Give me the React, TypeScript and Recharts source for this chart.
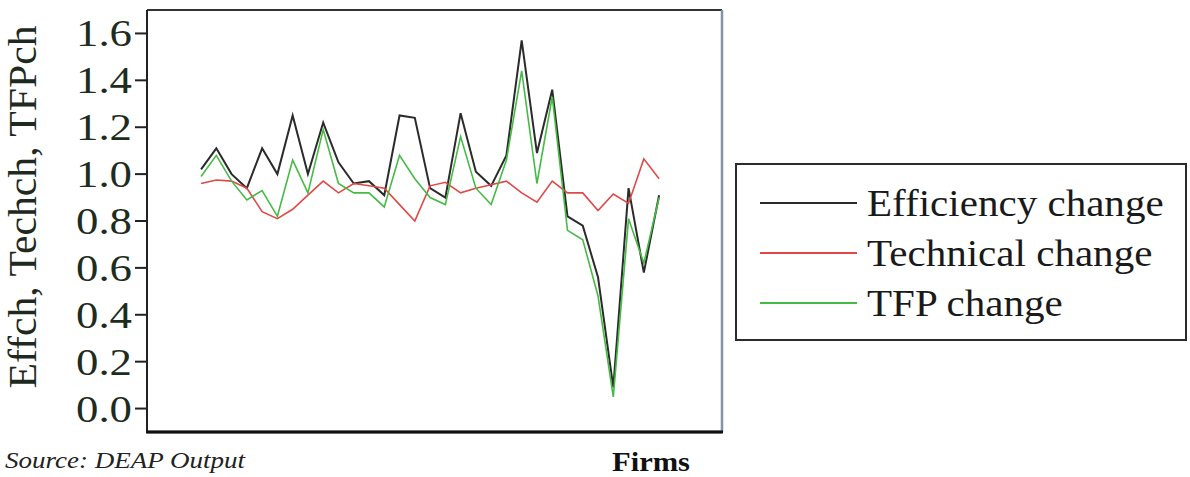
import { LineChart, Line, XAxis, YAxis, Legend, ReferenceLine } from 'recharts'

const firms = Array.from({ length: 31 }, (_, i) => i + 1)

const effch = [1.02, 1.11, 1.0, 0.94, 1.11, 1.0, 1.25, 1.0, 1.22, 1.05, 0.96, 0.97, 0.91, 1.25, 1.24, 0.94,
    0.9, 1.26, 1.01, 0.95, 1.08, 1.57, 1.09, 1.36, 0.82, 0.78, 0.56, 0.09, 0.94, 0.58, 0.91]
const techch = [0.96, 0.975, 0.97, 0.94, 0.84, 0.81, 0.85, 0.91, 0.97, 0.92, 0.96, 0.95, 0.94, 0.87, 0.8, 0.95,
    0.965, 0.92, 0.94, 0.955, 0.97, 0.92, 0.88, 0.97, 0.92, 0.92, 0.845, 0.915, 0.875, 1.065, 0.98]
const tfpch = [0.99, 1.08, 0.97, 0.89, 0.93, 0.82, 1.06, 0.92, 1.19, 0.96, 0.92, 0.92, 0.86, 1.08, 0.98, 0.9,
    0.87, 1.16, 0.94, 0.87, 1.06, 1.44, 0.96, 1.33, 0.76, 0.72, 0.48, 0.05, 0.81, 0.62, 0.9]

const yTicks = [0, 0.2, 0.4, 0.6, 0.8, 1.0, 1.2, 1.4, 1.6]
const xDomain = [-2.54, 35.12]
const yDomain = [-0.1, 1.7]

const series = [
    { key: 'effch', name: 'Efficiency change', color: '#2b2b2b', width: 2 },
    { key: 'techch', name: 'Technical change', color: '#e04848', width: 1.6 },
    { key: 'tfpch', name: 'TFP change', color: '#45bb45', width: 1.6 },
]

const data = firms.map((f, i) => ({ firm: f, effch: effch[i], techch: techch[i], tfpch: tfpch[i] }))

// no Times-like face in the sandbox, falls back to DejaVu Serif
const serif = '"Times New Roman", "Liberation Serif", "DejaVu Serif", serif'

function YTick(props: any) {
    const { x, y, payload } = props
    return (
        <text x={x} y={y} dy={13} textAnchor="end" fontFamily={serif} fontSize={38} fill="#1e2c1e"
            textLength={56} lengthAdjust="spacingAndGlyphs">
            {payload.value.toFixed(1)}
        </text>
    )
}

function LegendBox() {
    return (
        <div style={{ width: 452, height: 178, border: '2px solid #2a2a2a', background: '#fff', boxSizing: 'border-box', position: 'relative' }}>
            {series.map((s, i) => (
                <div key={s.key} style={{ position: 'absolute', left: 23, top: 18 + i * 50, height: 40, display: 'flex', alignItems: 'center' }}>
                    <div style={{ width: 97, height: 2, background: s.color }} />
                    <span style={{ marginLeft: 10, fontFamily: serif, fontSize: 38, color: '#1a1a1a', whiteSpace: 'nowrap', display: 'inline-block', transform: 'scaleX(1.08)', transformOrigin: 'left center' }}>
                        {s.name}
                    </span>
                </div>
            ))}
        </div>
    )
}

export default function App() {
    return (
        <div style={{ position: 'fixed', left: 0, top: 0, width: 1190, height: 477, background: '#fff' }}>
            <LineChart width={1190} height={477} data={data} margin={{ top: 10, right: 468, bottom: 45, left: 0 }}>
                <XAxis dataKey="firm" type="number" domain={xDomain} allowDataOverflow hide />
                <YAxis domain={yDomain} ticks={yTicks} allowDataOverflow width={147} tickSize={12} tickMargin={3}
                    tick={<YTick />} tickLine={{ stroke: '#222', strokeWidth: 2 }} axisLine={{ stroke: '#222', strokeWidth: 2 }} />
                {/* frame of the plot box */}
                <ReferenceLine y={yDomain[1]} stroke="#333" strokeWidth={2} ifOverflow="visible" />
                <ReferenceLine y={yDomain[0]} stroke="#222" strokeWidth={2.5} ifOverflow="visible" />
                <ReferenceLine x={xDomain[1]} stroke="#8494a4" strokeWidth={2.5} ifOverflow="visible" />
                {series.map((s) => (
                    <Line key={s.key} dataKey={s.key} name={s.name} stroke={s.color} strokeWidth={s.width}
                        dot={false} isAnimationActive={false} type="linear" />
                ))}
                <Legend layout="horizontal" verticalAlign="middle" align="center" content={<LegendBox />}
                    wrapperStyle={{ left: 735, top: 163, width: 452, height: 178 }} />
            </LineChart>
            <svg width={1190} height={477} style={{ position: 'absolute', left: 0, top: 0, pointerEvents: 'none' }}>
                {/* bottom edge of the plot box, the chart's own one did not show up */}
                <line x1={146} y1={432} x2={723} y2={432} stroke="#111" strokeWidth={3} />
                <text transform="rotate(-90, 36, 207)" x={36} y={207} textAnchor="middle" fontFamily={serif}
                    fontSize={40} fill="#1e2a1e" textLength={363} lengthAdjust="spacingAndGlyphs">
                    Effch, Techch, TFPch
                </text>
                <text x={5} y={468} fontFamily={serif} fontStyle="italic" fontSize={23} fill="#222"
                    textLength={240} lengthAdjust="spacingAndGlyphs">
                    Source: DEAP Output
                </text>
                <text x={612} y={471} fontFamily={serif} fontWeight="bold" fontSize={27} fill="#111"
                    textLength={78} lengthAdjust="spacingAndGlyphs">
                    Firms
                </text>
            </svg>
        </div>
    )
}
